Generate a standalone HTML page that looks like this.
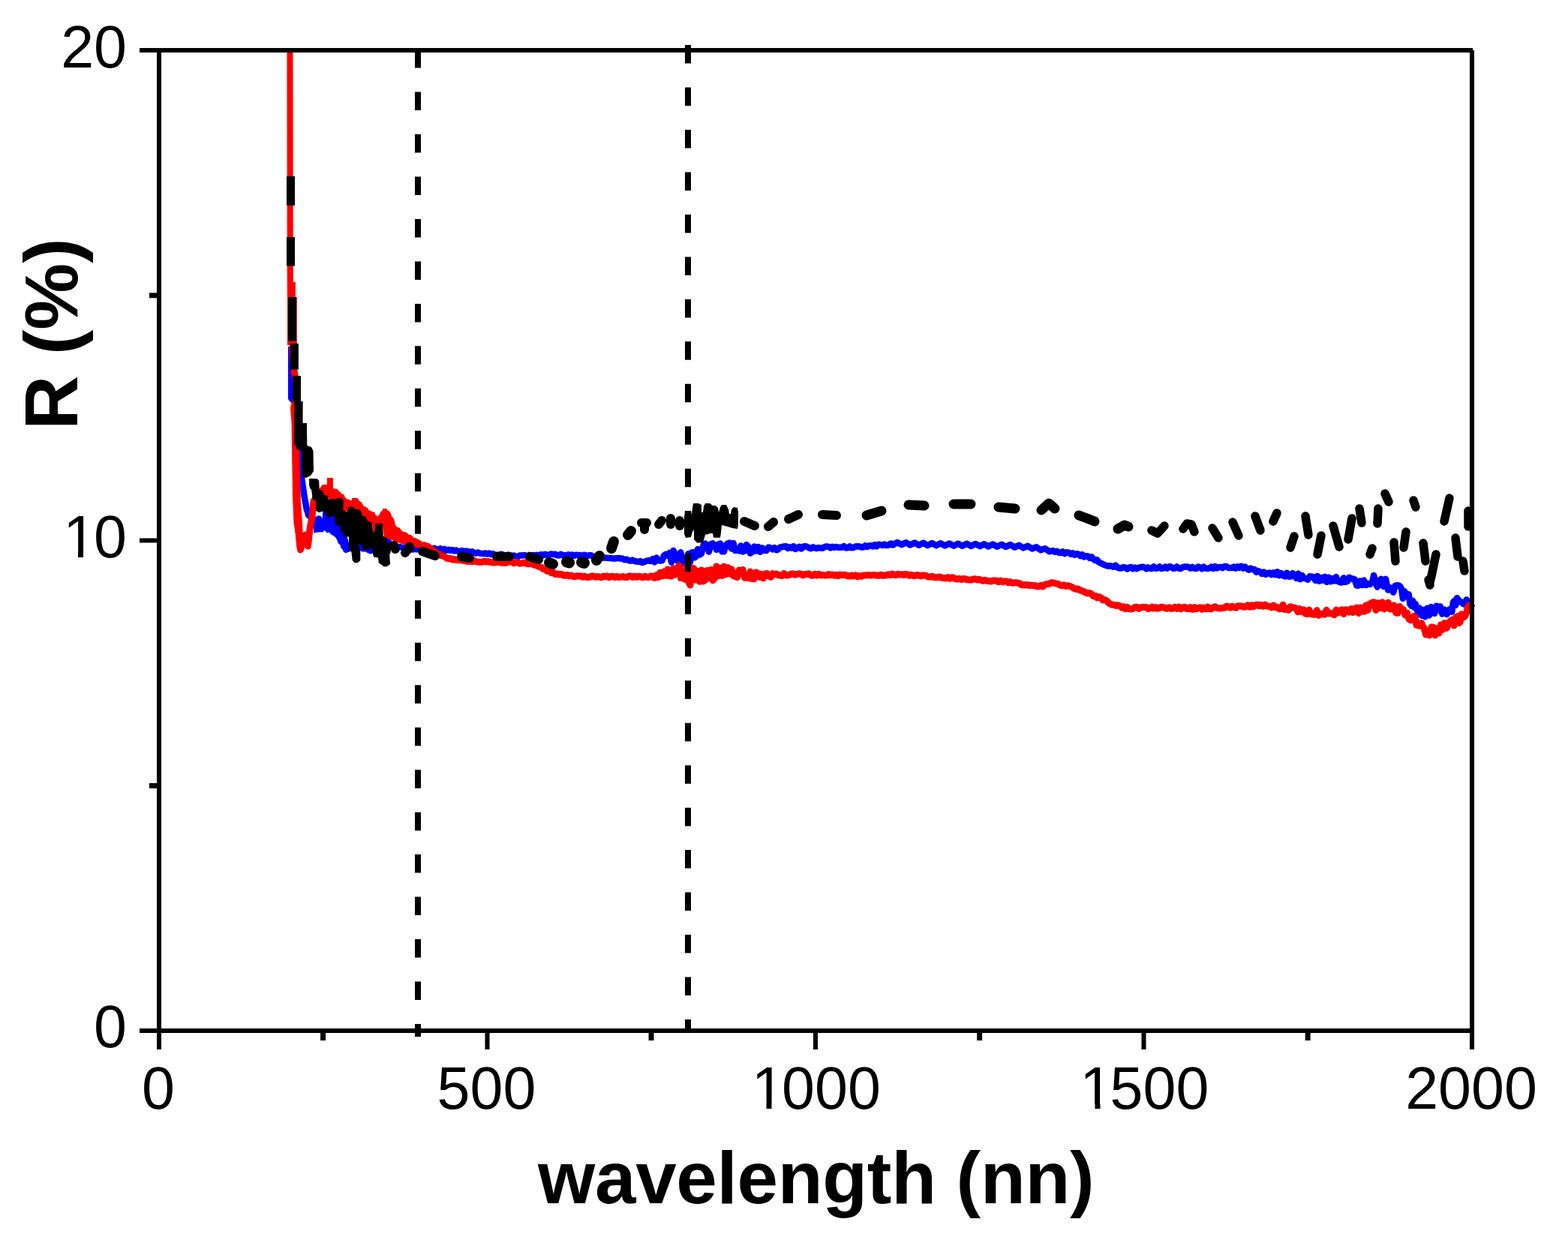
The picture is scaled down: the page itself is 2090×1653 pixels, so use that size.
<!DOCTYPE html>
<html><head><meta charset="utf-8"><title>R vs wavelength</title>
<style>html,body{margin:0;padding:0;background:#fff;overflow:hidden;}svg{display:block;}text{font-family:"Liberation Sans",Arial,sans-serif;}</style></head><body>
<svg width="2090" height="1653" viewBox="0 0 2090 1653">
<rect x="0" y="0" width="2090" height="1653" fill="#fff"/>
<g fill="none" stroke-linejoin="round">
<polyline points="387.5,462.0 387.5,531.0 396.0,540.0" stroke="#0000ff" stroke-width="7"/>
<polyline points="396.0,540.0 399.0,600.0 400.0,607.0 401.0,630.0 403.5,647.0 406.0,664.0 409.0,680.0 410.0,681.9 411.0,686.5 412.0,687.2 413.7,689.0 415.3,690.9 417.0,694.9 419.0,695.2 421.0,700.2 422.3,696.0 423.7,693.8 425.0,691.4 426.0,695.4 427.0,699.0 428.0,699.3 429.0,704.3 431.0,699.5 433.0,699.3 434.3,698.9 435.7,703.3 437.0,706.0 439.0,701.4 441.0,701.3 442.3,703.9 443.7,706.2 445.0,707.1 447.5,709.5 450.0,711.5 451.7,714.7 453.3,717.0 455.0,716.6 455.8,721.3 456.6,721.6 457.4,724.1 458.2,728.4 459.0,728.7 462.0,731.8 464.0,731.9 466.0,730.1 469.0,727.6 472.0,727.3 474.7,729.4 477.3,730.7 480.0,729.4 483.5,731.3 487.0,730.4 490.5,732.6 494.0,734.2 496.0,729.9 498.0,730.5 500.0,729.3 502.0,726.9 504.0,722.9 506.0,722.7 509.0,719.5 512.0,719.3 514.0,720.5 516.0,721.9 518.0,722.4 520.0,727.2 522.6,727.3 525.2,725.6 527.8,727.9 530.4,729.0 533.0,729.2 536.0,729.9 539.0,730.4 542.0,729.2 545.0,731.8 547.5,732.6 550.0,732.6 552.5,731.7 555.0,732.3 557.7,731.7 560.3,733.5 563.0,733.1 565.7,731.4 568.3,732.8 571.0,731.2 573.7,731.2 576.3,732.3 579.0,730.8 581.6,732.4 584.3,732.6 586.9,731.3 589.5,733.1 592.2,731.9 594.8,733.8 597.5,732.8 600.1,733.8 602.7,733.0 605.4,734.5 608.0,733.6 610.6,735.0 613.3,735.1 615.9,734.0 618.5,735.5 621.2,734.6 623.8,735.0 626.5,736.5 629.1,735.3 631.7,737.1 634.4,737.5 637.0,736.5 639.5,737.6 642.0,737.9 644.6,738.1 647.1,737.4 649.6,738.5 652.1,737.6 654.7,739.0 657.2,738.2 659.7,739.6 662.2,739.7 664.8,740.2 667.3,738.8 669.8,739.1 672.3,740.9 674.9,740.6 677.4,739.6 679.9,740.3 682.4,741.3 685.0,740.4 687.5,741.7 690.0,742.4 692.6,740.6 695.2,740.5 697.8,740.3 700.4,740.2 702.9,741.5 705.5,739.9 708.1,741.4 710.7,739.9 713.3,740.6 715.9,739.8 718.5,740.3 721.1,739.2 723.6,740.4 726.2,738.7 728.8,739.9 731.4,740.0 734.0,738.5 737.0,738.9 740.0,738.8 742.5,740.2 745.1,740.5 747.6,738.8 750.1,740.4 752.6,740.2 755.2,740.6 757.7,739.2 760.2,740.7 762.7,739.5 765.3,740.8 767.8,739.7 770.3,740.0 772.8,740.0 775.4,741.0 777.9,739.8 780.4,740.0 782.9,741.3 785.5,740.3 788.0,740.2 790.6,742.0 793.2,742.1 795.8,741.3 798.4,742.5 801.0,743.0 803.6,743.4 806.2,743.5 808.8,743.8 811.4,744.0 814.0,744.1 816.6,744.5 819.2,744.5 821.8,744.2 824.4,743.9 827.0,744.5 829.6,744.6 832.3,746.2 834.9,745.6 837.5,747.0 840.2,747.7 842.8,746.6 845.5,747.9 848.1,748.5 850.7,748.8 853.4,748.1 856.0,749.9 858.8,749.2 861.6,747.8 864.4,747.1 867.2,748.0 870.0,745.1 872.5,749.4 875.0,743.4 877.5,747.1 880.0,747.5 882.5,747.3 885.0,740.5 887.5,738.9 890.0,741.1 892.5,736.9 895.0,749.6 897.5,733.9 900.0,739.0 902.5,747.3 905.0,743.8 907.3,736.2 909.7,751.6 912.0,743.3 914.7,750.6 917.3,738.2 920.0,749.0 922.0,736.4 924.0,736.1 926.0,743.3 928.0,741.7 930.0,732.0 932.5,739.6 935.0,737.8 937.5,726.9 940.0,724.7 942.5,726.9 945.0,735.5 947.5,725.3 950.0,724.4 952.5,727.0 955.0,732.9 957.5,725.7 960.0,724.5 962.5,735.2 965.0,735.2 967.5,726.7 970.0,724.3 972.5,723.7 975.0,731.4 977.5,724.0 980.0,734.0 982.5,732.2 985.0,734.4 987.5,727.5 990.0,735.5 992.5,734.6 995.0,726.1 997.5,728.8 1000.0,737.6 1002.7,735.9 1005.3,728.6 1008.0,734.6 1010.7,729.0 1013.3,735.8 1016.0,730.4 1018.8,733.8 1021.6,734.1 1024.4,729.5 1027.2,730.3 1030.0,732.4 1032.5,730.1 1035.0,733.2 1037.5,732.2 1040.0,729.5 1042.5,729.1 1045.0,728.5 1047.5,728.2 1050.0,730.9 1052.5,729.2 1055.0,730.7 1057.6,728.2 1060.2,731.8 1062.8,730.6 1065.4,728.8 1068.0,731.6 1070.6,728.6 1073.2,728.2 1075.8,728.8 1078.4,730.4 1081.0,731.3 1083.6,729.2 1086.2,730.5 1088.8,731.0 1091.4,730.1 1094.0,730.6 1096.6,730.8 1099.1,729.1 1101.7,728.4 1104.3,728.9 1106.9,730.5 1109.4,728.8 1112.0,729.9 1114.6,728.9 1117.1,729.8 1119.7,729.7 1122.3,729.8 1124.9,728.1 1127.4,730.4 1130.0,730.3 1132.6,728.4 1135.1,730.3 1137.7,730.0 1140.3,728.4 1142.9,728.3 1145.4,728.5 1148.0,729.4 1150.6,729.6 1153.2,727.4 1155.7,729.0 1158.3,727.5 1160.9,727.2 1163.5,728.4 1166.1,726.2 1168.6,728.3 1171.2,725.8 1173.8,726.1 1176.4,727.0 1178.9,725.6 1181.5,727.1 1184.1,726.8 1186.7,724.8 1189.3,724.8 1190.0,726.6 1195.8,723.1 1201.6,726.1 1207.4,723.3 1213.2,726.4 1219.0,723.6 1224.8,726.7 1230.6,723.8 1236.4,727.0 1242.2,724.1 1248.0,727.2 1253.8,724.3 1259.6,727.4 1265.4,724.5 1271.2,727.6 1277.0,724.7 1282.8,727.7 1288.6,724.8 1294.4,727.9 1300.2,725.0 1306.0,728.1 1311.8,725.3 1317.6,728.4 1323.4,725.5 1329.2,728.7 1335.0,725.8 1340.8,728.9 1346.6,726.1 1352.4,729.5 1358.2,726.9 1364.0,730.4 1369.8,727.9 1375.6,731.4 1381.4,729.3 1387.2,733.3 1393.0,731.3 1398.8,735.3 1400.7,734.6 1403.4,734.1 1406.0,735.8 1408.6,734.7 1411.3,736.7 1413.9,737.1 1416.5,735.4 1419.2,738.0 1421.8,736.2 1424.5,736.6 1427.1,738.6 1429.7,737.3 1432.4,739.7 1435.0,738.2 1437.5,738.9 1440.0,741.1 1442.5,739.2 1445.0,742.5 1447.5,741.3 1450.0,741.5 1452.5,743.8 1455.0,742.3 1457.4,745.3 1459.8,747.1 1462.1,746.2 1464.5,749.3 1466.9,750.7 1469.2,751.5 1471.6,752.9 1474.0,753.7 1476.6,754.5 1479.2,754.3 1481.8,754.7 1484.4,755.7 1487.0,753.7 1489.6,756.5 1492.2,757.5 1494.8,757.4 1497.4,756.1 1500.0,756.7 1502.5,758.5 1505.1,756.6 1507.6,756.0 1510.1,758.2 1512.6,756.5 1515.2,758.2 1517.7,756.6 1520.2,756.3 1522.7,755.7 1525.3,756.3 1527.8,758.3 1530.3,756.4 1532.8,757.8 1535.4,758.0 1537.9,755.2 1540.4,757.7 1542.9,757.5 1545.5,755.5 1548.0,757.9 1550.6,757.5 1553.2,755.7 1555.7,757.6 1558.3,755.2 1560.9,755.7 1563.5,757.8 1566.1,757.5 1568.6,755.4 1571.2,757.5 1573.8,758.1 1576.4,756.2 1578.9,755.6 1581.5,755.4 1584.1,756.0 1586.7,757.6 1589.3,755.9 1591.8,757.6 1594.4,758.1 1597.0,755.5 1599.5,756.5 1602.0,758.2 1604.5,755.7 1607.0,757.6 1609.5,757.9 1612.0,757.4 1614.5,755.7 1617.0,757.8 1619.5,755.1 1622.0,757.5 1624.5,755.9 1627.0,755.9 1629.5,757.1 1632.0,755.1 1634.5,755.1 1637.0,756.8 1639.5,757.1 1642.0,757.1 1644.5,755.5 1647.0,757.6 1649.5,755.3 1652.0,756.9 1654.5,754.7 1657.0,757.5 1659.5,755.6 1662.0,758.0 1664.5,759.6 1667.0,757.6 1669.5,759.0 1672.0,759.0 1674.5,762.7 1677.0,761.1 1679.5,762.1 1682.0,765.1 1684.5,762.6 1687.0,765.9 1689.6,763.9 1692.2,763.6 1694.8,766.1 1697.4,763.2 1700.0,766.2 1702.5,762.2 1705.1,767.2 1707.6,764.0 1710.2,767.3 1712.7,768.3 1715.3,763.7 1717.8,768.7 1720.4,768.6 1722.9,764.2 1725.5,766.2 1728.0,771.0 1730.5,764.6 1733.1,772.3 1735.6,767.1 1738.1,770.7 1740.7,771.4 1743.2,772.6 1745.7,768.3 1748.3,768.7 1750.8,769.2 1753.3,773.8 1755.9,768.0 1758.4,774.8 1760.9,769.9 1763.5,773.8 1766.0,768.9 1768.5,775.8 1771.0,769.7 1773.5,775.3 1776.0,771.1 1778.5,774.5 1781.0,769.1 1783.5,775.1 1786.0,776.2 1788.5,776.5 1791.0,770.3 1793.5,775.9 1796.0,774.9 1798.4,769.7 1800.9,771.4 1803.3,771.5 1805.8,772.5 1808.2,780.6 1810.7,780.7 1813.1,774.4 1815.6,780.0 1818.0,773.6 1820.8,780.0 1823.5,778.1 1826.2,779.0 1829.0,775.8 1831.2,767.0 1833.5,776.9 1835.8,782.5 1838.0,774.4 1841.0,771.7 1844.0,781.8 1847.0,771.7 1850.0,786.5 1852.4,783.1 1854.8,786.0 1857.2,789.6 1859.6,780.9 1862.0,780.2 1864.0,780.4 1866.0,781.3 1868.0,785.1 1870.0,798.0 1872.0,788.2 1874.0,792.0 1875.8,794.3 1877.7,792.3 1879.5,805.5 1881.3,807.7 1883.2,800.8 1885.0,809.8 1886.7,804.9 1888.4,812.3 1890.1,816.6 1891.9,810.4 1893.6,819.3 1895.3,820.7 1897.0,813.0 1899.7,822.2 1902.3,810.7 1905.0,820.4 1907.4,809.0 1909.8,817.0 1912.2,817.7 1914.6,807.7 1917.0,812.9 1919.7,808.4 1922.3,818.5 1925.0,812.5 1928.5,819.1 1932.0,812.3 1933.7,814.7 1935.3,815.7 1937.0,802.8 1938.7,800.8 1940.3,806.8 1942.0,797.2 1945.0,801.0 1948.0,802.9 1950.5,805.2 1953.0,803.1 1954.7,799.4 1956.3,809.5 1958.0,809.3 1959.5,803.1 1961.0,810.0" stroke="#0000ff" stroke-width="8.5"/>
<polygon points="418.0,689.3 422.7,688.4 426.9,691.0 429.5,692.7 430.3,680.8 440.0,684.0 447.0,688.0 455.0,700.0 462.0,712.0 466.0,728.0 465.0,733.3 464.2,735.8 460.8,737.5 457.4,735.0 455.7,728.2 450.6,724.0 449.0,718.9 446.4,715.5 439.6,711.3 438.8,703.7 434.6,702.4 430.3,709.6 425.2,709.2 418.0,710.4" fill="#0000ff" stroke="none"/>
<polyline points="446.0,656.0 448.0,657.0 450.3,659.1 452.7,663.4 455.0,662.4 456.5,667.5 458.0,667.1 460.5,671.6 463.0,669.9 465.0,671.2 467.0,677.4 468.5,673.8 470.0,671.2 474.0,668.1 476.0,673.5 478.0,672.4 479.7,674.7 481.3,678.8 483.0,679.0 487.0,680.6 489.0,685.6 491.0,684.9 495.0,686.2 496.7,691.6 498.3,690.0 500.0,692.9 502.5,693.7 505.0,696.8 506.5,691.1 508.0,691.7 509.5,688.5 511.0,685.1 515.0,685.5 516.0,685.0 517.0,686.6 518.0,692.6 519.5,691.8 521.0,693.9 522.0,698.0 523.0,703.6 524.5,703.7 526.0,708.8 530.0,707.3 531.5,712.0 533.0,711.1 535.3,715.2 537.7,713.2 540.0,714.2 542.7,718.5 545.3,717.0 548.0,719.3 550.5,722.0 553.0,721.5 555.5,724.4 558.0,724.2 560.4,726.7 562.8,727.5 565.2,726.6 567.6,727.9 570.0,728.2 572.2,729.7 574.3,732.5 576.5,732.8 578.7,735.3 580.8,736.1 583.0,738.3 585.5,738.8 588.0,740.8 590.5,740.7 593.0,742.3 595.5,744.3 598.0,744.7 600.6,744.4 603.3,746.1 605.9,745.5 608.5,746.5 611.2,746.7 613.8,745.8 616.5,747.3 619.1,746.9 621.7,748.3 624.4,748.4 627.0,747.5 629.6,748.8 632.3,747.4 634.9,748.7 637.5,749.3 640.2,749.2 642.8,749.3 645.5,748.0 648.1,749.0 650.7,748.4 653.4,749.6 656.0,749.6 658.6,750.0 661.3,749.7 663.9,748.9 666.5,749.8 669.2,750.3 671.8,750.1 674.5,750.4 677.1,749.0 679.7,749.1 682.4,749.3 685.0,750.8 687.5,749.4 690.0,749.7 692.5,751.2 695.0,750.9 697.5,750.3 700.0,750.0 702.5,751.7 705.0,751.7 707.5,750.9 710.0,752.3 712.5,753.2 715.0,752.1 717.2,755.1 719.5,755.9 721.8,756.3 724.0,758.6 726.7,758.6 729.3,761.2 732.0,760.9 734.7,763.5 737.3,763.0 740.0,765.6 742.6,765.0 745.3,766.0 747.9,765.2 750.5,766.8 753.2,767.2 755.8,766.3 758.5,768.0 761.1,766.9 763.7,768.3 766.4,768.8 769.0,767.8 771.5,768.0 774.1,768.0 776.6,769.3 779.1,768.0 781.6,769.5 784.2,769.5 786.7,769.1 789.2,767.8 791.7,768.4 794.3,769.3 796.8,768.4 799.3,769.5 801.8,769.7 804.4,768.1 806.9,768.5 809.4,768.0 811.9,769.8 814.5,768.4 817.0,768.2 819.6,769.5 822.3,768.5 824.9,769.5 827.5,769.3 830.2,768.5 832.8,769.5 835.5,769.6 838.1,768.1 840.7,768.1 843.4,769.4 846.0,768.2 848.6,769.4 851.3,768.2 853.9,768.6 856.5,769.8 859.2,768.3 861.8,769.3 864.5,769.5 867.1,768.1 869.7,768.2 872.4,770.5 875.0,766.8 877.5,769.7 880.0,763.2 882.5,768.0 885.0,762.0 887.5,767.2 890.0,759.0 892.5,767.8 895.0,767.9 897.5,757.7 900.0,766.1 902.5,758.4 905.0,753.8 907.5,770.6 910.0,768.5 912.5,772.2 915.0,755.4 917.5,774.9 920.0,779.9 922.5,756.9 925.0,758.1 927.5,773.0 930.0,761.3 932.5,775.3 935.0,760.0 937.5,775.0 940.0,773.1 942.5,760.4 945.0,770.6 947.5,759.5 950.0,773.8 952.5,770.5 955.0,754.9 957.5,767.9 960.0,757.2 962.5,767.5 965.0,755.1 967.5,765.7 970.0,756.4 972.5,764.7 975.0,758.6 977.5,767.7 980.0,768.3 982.5,769.6 985.0,760.1 987.5,761.3 990.0,759.5 992.5,770.3 995.0,769.6 997.5,770.8 1000.0,762.0 1002.5,771.5 1005.0,771.7 1007.5,762.9 1010.0,764.3 1012.5,769.2 1015.0,765.5 1017.5,770.9 1020.0,764.7 1022.5,764.5 1025.0,768.0 1027.5,769.3 1030.0,764.7 1032.5,765.5 1035.0,765.1 1037.5,767.1 1040.0,766.8 1042.5,767.6 1045.0,764.4 1047.5,767.0 1050.0,766.9 1052.5,766.2 1055.0,764.9 1057.5,764.9 1060.0,766.3 1062.5,765.1 1065.0,764.8 1067.5,765.2 1070.0,766.9 1072.7,765.5 1075.3,765.4 1078.0,764.8 1080.7,766.8 1083.3,767.2 1086.0,765.4 1088.7,767.1 1091.3,765.2 1094.0,766.7 1096.6,766.5 1099.1,766.9 1101.7,767.1 1104.3,765.5 1106.9,766.8 1109.4,765.9 1112.0,767.2 1114.6,766.2 1117.1,767.7 1119.7,766.1 1122.3,766.7 1124.9,766.3 1127.4,766.7 1130.0,767.9 1132.6,768.1 1135.1,766.9 1137.7,768.0 1140.3,766.8 1142.9,768.8 1145.4,767.4 1148.0,768.4 1150.6,766.9 1153.2,766.9 1155.7,766.7 1158.3,766.8 1160.9,767.0 1163.5,766.6 1166.1,766.4 1168.6,767.3 1171.2,767.3 1173.8,766.2 1176.4,767.4 1178.9,767.0 1181.5,766.9 1184.1,765.7 1186.7,766.5 1189.3,765.0 1191.8,766.3 1194.4,766.7 1197.0,765.2 1199.5,766.1 1202.1,765.6 1204.6,766.6 1207.1,765.3 1209.6,765.8 1212.2,767.2 1214.7,766.2 1217.2,767.4 1219.7,767.5 1222.3,766.5 1224.8,766.9 1227.3,768.0 1229.8,767.1 1232.4,767.0 1234.9,767.7 1237.4,769.0 1239.9,769.0 1242.5,768.2 1245.0,769.6 1247.6,769.8 1250.2,769.6 1252.8,769.0 1255.4,770.4 1258.0,770.6 1260.6,770.9 1263.2,769.6 1265.8,771.3 1268.4,769.7 1271.0,770.4 1273.6,771.6 1276.2,772.1 1278.8,771.2 1281.4,772.5 1284.0,771.5 1286.7,771.8 1289.3,772.8 1292.0,773.1 1294.7,773.0 1297.3,772.0 1300.0,771.8 1302.6,773.1 1305.2,772.2 1307.8,773.7 1310.4,774.3 1313.0,773.2 1315.6,774.4 1318.2,774.4 1320.8,775.0 1323.4,773.9 1326.0,774.0 1328.6,774.3 1331.2,775.8 1333.8,774.1 1336.4,775.7 1339.0,774.9 1341.5,774.9 1344.1,776.8 1346.6,775.6 1349.1,777.3 1351.7,776.8 1354.2,776.8 1356.7,777.1 1359.3,777.9 1361.8,779.8 1364.3,779.5 1366.9,780.1 1369.4,779.4 1371.9,780.6 1374.5,780.1 1377.0,780.6 1379.6,780.6 1382.2,781.9 1384.8,781.6 1387.4,780.4 1390.0,781.9 1392.8,779.3 1395.5,778.4 1398.2,778.5 1401.0,776.8 1404.0,777.0 1407.0,777.7 1410.0,778.1 1412.7,780.0 1415.3,780.7 1418.0,779.7 1420.7,781.5 1423.3,780.7 1426.0,781.3 1428.7,782.5 1431.4,784.3 1434.1,785.5 1436.9,785.0 1439.6,786.9 1442.3,787.6 1445.0,788.9 1447.5,790.1 1450.0,790.9 1452.5,790.6 1455.0,792.0 1457.5,794.8 1460.0,794.2 1462.5,796.9 1465.0,795.5 1467.5,796.7 1470.0,799.9 1472.5,799.5 1475.0,800.7 1477.5,803.7 1480.0,805.2 1482.5,806.2 1485.0,806.3 1487.5,807.4 1490.0,806.7 1492.5,807.7 1495.0,810.0 1497.5,808.7 1500.0,811.8 1502.5,809.5 1505.1,811.6 1507.6,812.0 1510.1,811.3 1512.6,809.4 1515.2,809.3 1517.7,811.4 1520.2,809.9 1522.7,809.5 1525.3,809.6 1527.8,809.5 1530.3,811.6 1532.8,810.9 1535.4,809.2 1537.9,811.0 1540.4,809.5 1542.9,811.2 1545.5,810.7 1548.0,809.2 1550.6,809.4 1553.2,810.8 1555.7,811.2 1558.3,809.7 1560.9,811.4 1563.5,811.0 1566.1,809.3 1568.6,811.3 1571.2,809.2 1573.8,811.7 1576.4,809.9 1578.9,809.3 1581.5,811.5 1584.1,811.6 1586.7,809.6 1589.3,812.4 1591.8,809.8 1594.4,811.9 1597.0,810.3 1599.5,809.8 1602.1,812.2 1604.6,810.0 1607.1,811.6 1609.6,809.3 1612.2,811.5 1614.7,811.9 1617.2,809.7 1619.7,808.7 1622.3,810.6 1624.8,810.8 1627.3,810.9 1629.8,810.3 1632.4,810.3 1634.9,808.1 1637.4,808.7 1639.9,810.1 1642.5,808.3 1645.0,809.7 1647.6,810.2 1650.1,807.7 1652.7,808.1 1655.3,807.9 1657.9,809.3 1660.4,808.9 1663.0,806.9 1665.6,809.0 1668.1,806.8 1670.7,808.7 1673.3,806.7 1675.9,806.0 1678.4,807.8 1681.0,806.4 1683.7,808.2 1686.4,806.1 1689.1,808.1 1691.9,808.4 1694.6,809.9 1697.3,806.9 1700.0,809.7 1702.5,809.5 1705.0,811.7 1707.5,811.6 1710.0,806.2 1712.5,812.6 1715.0,811.2 1717.5,813.2 1720.0,808.8 1722.5,809.7 1725.0,810.0 1727.5,810.8 1730.0,815.8 1732.5,811.6 1735.0,815.5 1737.5,812.8 1740.0,818.1 1742.5,818.5 1745.0,813.0 1747.5,818.8 1750.0,818.9 1752.6,819.3 1755.2,813.6 1757.8,820.3 1760.3,818.7 1762.9,818.3 1765.5,819.1 1768.1,813.3 1770.7,817.9 1773.2,817.5 1775.8,818.0 1778.4,819.8 1781.0,813.1 1783.5,816.9 1786.0,813.9 1788.5,812.8 1791.0,818.5 1793.5,812.8 1796.0,813.1 1798.5,816.3 1801.0,811.6 1803.5,816.6 1806.0,811.3 1808.5,810.0 1811.0,817.4 1813.4,809.9 1815.9,815.1 1818.3,815.1 1820.7,807.0 1823.1,813.4 1825.6,805.0 1828.0,803.8 1831.0,802.7 1834.0,813.3 1837.0,803.8 1840.0,810.8 1842.6,802.8 1845.2,811.9 1847.8,810.1 1850.4,803.2 1853.0,812.0 1855.5,811.3 1858.0,806.9 1860.5,816.8 1863.0,817.3 1865.5,808.4 1868.0,811.2 1870.5,812.6 1873.0,819.9 1875.5,817.0 1878.0,825.3 1880.5,827.0 1883.0,825.9 1884.7,821.3 1886.3,822.8 1888.0,833.2 1889.7,833.3 1891.3,834.3 1893.0,831.5 1894.7,830.5 1896.3,834.9 1898.0,836.8 1900.5,845.9 1903.0,845.4 1905.5,846.9 1908.0,836.0 1910.5,836.3 1913.0,846.8 1915.5,837.7 1918.0,844.1 1920.5,832.9 1923.0,839.2 1925.5,830.5 1928.0,837.4 1930.5,831.7 1933.0,827.9 1935.5,826.1 1938.0,833.9 1940.5,823.1 1943.0,821.5 1944.7,830.6 1946.3,829.0 1948.0,818.7 1949.7,821.4 1951.3,822.8 1953.0,820.9 1954.7,816.8 1956.3,809.7 1958.0,807.3 1960.0,811.1 1962.0,805.0" stroke="#ff0000" stroke-width="9"/>
<polyline points="386.5,67.0 386.5,90.0 386.8,376.0" stroke="#ff0000" stroke-width="8"/>
<polyline points="388.4,376.0 388.4,396.0" stroke="#ff0000" stroke-width="11"/>
<polyline points="389.4,396.0 389.4,460.0" stroke="#ff0000" stroke-width="12.8"/>
<polyline points="390.0,460.0 391.5,492.0 394.0,505.0 394.5,530.0 391.5,545.0 393.0,563.0 393.5,590.0 394.0,620.0 394.5,660.0 396.0,697.0 399.0,715.0 400.5,733.0 404.0,722.0 407.0,713.0 410.5,728.0 413.0,705.0 416.0,690.0 418.0,668.0 423.0,662.0 428.0,656.0 433.0,655.0 436.0,652.0" stroke="#ff0000" stroke-width="9"/>
<polyline points="394.5,600.0 395.0,640.0 396.0,670.0 397.5,690.0 399.0,715.0 400.5,730.0" stroke="#ff0000" stroke-width="10"/>
</g>
<polygon points="425.0,652.0 427.0,650.0 430.0,646.0 436.0,646.0 436.0,637.0 444.0,637.0 444.0,651.0 450.0,652.0 450.0,658.0 456.0,659.0 456.0,663.0 459.0,663.0 459.0,666.0 466.0,666.0 466.0,672.0 469.0,672.0 469.0,664.0 476.0,664.0 476.0,669.0 482.0,669.0 482.0,675.0 487.0,675.0 487.0,677.0 490.0,677.0 490.0,681.0 494.0,681.0 494.0,683.0 500.0,683.0 500.0,689.0 508.0,690.0 508.0,684.0 510.0,684.0 510.0,678.0 516.0,678.0 516.0,686.0 519.0,686.0 519.0,691.6 522.0,691.6 523.0,694.5 523.0,699.0 525.0,699.0 525.0,702.8 527.0,703.7 531.0,703.7 531.0,708.0 535.0,708.6 545.0,715.0 560.0,720.0 560.0,731.0 535.0,725.0 512.0,716.0 510.0,702.0 500.0,702.0 500.0,709.0 497.0,709.0 496.0,699.0 490.0,696.0 483.0,692.0 475.0,683.0 465.0,680.0 457.0,684.0 455.0,670.0 445.0,669.0 437.0,664.0 431.0,657.0 426.0,655.0" fill="#ff0000"/>
<g fill="none" stroke="#000" stroke-width="11" stroke-linejoin="round">
<polyline points="387.5,235.0 387.5,274.0" stroke-linecap="butt"/>
<polyline points="387.5,316.0 387.5,354.6" stroke-linecap="butt"/>
<polyline points="389.5,396.0 389.5,454.5" stroke-linecap="butt"/>
<polyline points="392.4,458.0 392.4,492.6" stroke-linecap="butt"/>
<polyline points="395.5,501.0 395.5,536.0" stroke-linecap="butt"/>
<polyline points="525.0,727.0 527.0,732.0" stroke-linecap="round" stroke-width="12"/>
<polyline points="540.0,737.0 546.0,729.0" stroke-linecap="round" stroke-width="12"/>
<polyline points="563.0,735.0 580.0,741.0" stroke-linecap="round" stroke-width="12"/>
<polyline points="615.0,742.0 626.0,744.0" stroke-linecap="round" stroke-width="12"/>
<polyline points="662.0,742.0 679.0,742.0" stroke-linecap="round" stroke-width="12"/>
<polyline points="706.0,742.0 718.0,746.0" stroke-linecap="round" stroke-width="12"/>
<polyline points="855.0,697.0 862.0,697.0" stroke-linecap="round" stroke-width="12"/>
<polyline points="859.0,697.0 859.0,706.0" stroke-linecap="round" stroke-width="12"/>
<polyline points="878.0,699.0 882.0,694.0" stroke-linecap="round" stroke-width="12"/>
<polyline points="894.0,691.0 894.0,699.0" stroke-linecap="round" stroke-width="12"/>
<polyline points="906.0,694.0 906.0,701.0" stroke-linecap="round" stroke-width="12"/>
<polyline points="992.0,695.0 1006.0,701.0" stroke-linecap="round" stroke-width="12"/>
<polyline points="1024.0,702.0 1031.0,696.0" stroke-linecap="round" stroke-width="12"/>
<polyline points="1051.0,692.0 1064.0,686.0" stroke-linecap="round" stroke-width="12"/>
<polyline points="1096.0,686.0 1115.0,687.0" stroke-linecap="round" stroke-width="12"/>
<polyline points="1155.0,687.0 1175.0,681.0" stroke-linecap="round" stroke-width="13"/>
<polyline points="1211.0,673.0 1232.0,674.0" stroke-linecap="round" stroke-width="13"/>
<polyline points="1271.0,672.0 1294.0,672.0" stroke-linecap="round" stroke-width="13"/>
<polyline points="1331.0,676.0 1353.0,678.0" stroke-linecap="round" stroke-width="13"/>
<polyline points="1388.0,680.0 1398.0,671.0 1406.0,678.0" stroke-linecap="round" stroke-width="13"/>
<polyline points="1438.0,687.0 1449.0,691.0 1459.0,695.0" stroke-linecap="round" stroke-width="13"/>
<polyline points="1490.0,705.0 1499.0,700.0 1504.0,702.0" stroke-linecap="round" stroke-width="13"/>
<polyline points="1535.0,707.0 1543.0,711.0 1552.0,701.0" stroke-linecap="round" stroke-width="11.5"/>
<polyline points="1577.0,705.0 1582.0,698.0 1588.0,699.0 1592.0,709.0" stroke-linecap="round" stroke-width="11.5"/>
<polyline points="1616.0,704.0 1624.0,717.0" stroke-linecap="round" stroke-width="11.5"/>
<polyline points="1643.0,696.0 1651.0,714.0" stroke-linecap="round" stroke-width="11.5"/>
<polyline points="1673.0,688.0 1680.0,707.0" stroke-linecap="round" stroke-width="11.5"/>
<polyline points="1702.0,684.0 1697.0,695.0" stroke-linecap="round" stroke-width="11.5"/>
<polyline points="1725.0,715.0 1720.0,730.0" stroke-linecap="round" stroke-width="11.5"/>
<polyline points="1740.0,688.0 1744.0,713.0" stroke-linecap="round" stroke-width="11.5"/>
<polyline points="1761.0,714.0 1756.0,739.0" stroke-linecap="round" stroke-width="11.5"/>
<polyline points="1777.0,701.0 1785.0,729.0" stroke-linecap="round" stroke-width="11.5"/>
<polyline points="1802.0,691.0 1797.0,719.0" stroke-linecap="round" stroke-width="11.5"/>
<polyline points="1812.0,678.0 1815.0,697.0" stroke-linecap="round" stroke-width="11.5"/>
<polyline points="1829.0,731.0 1826.0,739.0" stroke-linecap="round" stroke-width="11.5"/>
<polyline points="1837.0,678.0 1836.0,698.0" stroke-linecap="round" stroke-width="11.5"/>
<polyline points="1846.0,658.0 1851.0,669.0" stroke-linecap="round" stroke-width="11.5"/>
<polyline points="1858.0,723.0 1860.0,748.0" stroke-linecap="round" stroke-width="11.5"/>
<polyline points="1874.0,709.0 1871.0,730.0" stroke-linecap="round" stroke-width="11.5"/>
<polyline points="1884.0,667.0 1887.0,676.0" stroke-linecap="round" stroke-width="11.5"/>
<polyline points="1897.0,724.0 1900.0,748.0" stroke-linecap="round" stroke-width="11.5"/>
<polyline points="1914.0,739.0 1908.0,768.0 1906.0,776.0" stroke-linecap="round" stroke-width="11.5"/>
<polyline points="1904.0,773.0 1906.0,780.0" stroke-linecap="round" stroke-width="11.5"/>
<polyline points="1932.0,664.0 1925.0,695.0" stroke-linecap="round" stroke-width="11.5"/>
<polyline points="1940.0,717.0 1943.0,742.0" stroke-linecap="round" stroke-width="11.5"/>
<polyline points="1950.0,748.0 1952.0,761.0" stroke-linecap="round" stroke-width="11.5"/>
<polyline points="1957.0,681.0 1957.0,702.0" stroke-linecap="round" stroke-width="11.5"/>
<polyline points="732.0,750.0 737.0,752.0" stroke-linecap="round" stroke-width="14"/>
<polyline points="755.5,749.0 758.5,750.0" stroke-linecap="round" stroke-width="15"/>
<polyline points="775.5,749.5 778.5,750.5" stroke-linecap="round" stroke-width="15"/>
<polyline points="795.0,747.0 799.0,741.0" stroke-linecap="round" stroke-width="14"/>
<polyline points="815.0,731.0 818.0,722.0" stroke-linecap="round" stroke-width="14"/>
<polyline points="837.0,713.0 841.0,708.0" stroke-linecap="round" stroke-width="14"/>
</g>
<g fill="#000">
<polygon points="392.0,560.0 392.4,535.0 403.6,535.0 403.6,564.0 409.0,564.0 409.3,594.0 415.0,596.0 417.5,601.0 418.0,628.0 414.0,634.0 408.0,637.0 404.0,636.0 402.0,632.0 402.0,601.0 396.0,599.0 392.0,590.0"/>
<polygon points="412.1,638.0 422.7,638.0 425.2,641.0 425.7,652.9 429.5,654.0 432.0,659.6 436.2,660.9 438.0,665.6 447.3,665.6 449.8,664.3 455.7,664.3 457.8,667.3 457.4,680.0 462.5,682.5 464.2,676.6 469.3,675.3 473.5,678.7 481.1,680.0 482.8,687.6 487.9,689.3 490.0,694.4 495.5,696.9 497.2,708.7 499.8,708.7 500.6,697.7 509.9,697.7 510.8,714.7 515.8,717.2 516.7,725.7 520.1,721.4 520.9,735.8 519.2,739.2 520.1,752.0 515.8,755.3 511.6,755.3 504.8,750.2 504.0,743.5 498.1,742.6 496.4,735.8 495.5,730.0 492.1,732.5 484.5,733.3 482.8,731.6 482.0,726.5 477.7,725.7 480.3,735.8 480.3,746.9 476.9,750.2 472.7,750.2 469.7,746.9 468.4,735.8 465.0,733.3 465.0,715.5 459.1,715.5 456.6,709.6 454.0,708.7 453.6,701.1 448.1,700.3 446.4,695.2 446.4,687.6 441.3,688.4 437.9,690.1 434.6,687.6 432.9,682.5 429.5,681.7 425.2,683.3 421.0,680.8 421.0,667.3 416.4,665.6 415.9,658.0 415.1,652.9 413.4,651.2 412.1,647.0"/>
<polygon points="912.0,690.0 913.0,681.0 921.0,681.0 922.0,686.0 923.0,677.0 924.0,671.0 931.0,671.0 935.0,673.0 935.0,683.0 937.0,683.0 938.0,675.0 940.0,671.0 946.0,671.0 950.0,674.0 954.0,674.0 957.0,677.0 958.0,683.0 960.0,676.0 962.0,673.0 968.0,673.0 971.0,679.0 972.0,685.0 974.0,685.0 975.0,679.0 978.0,676.0 983.0,677.0 984.0,683.0 984.0,700.0 983.0,705.0 976.0,704.0 970.0,702.0 962.0,700.0 961.0,710.0 960.0,716.7 951.0,716.7 950.0,711.0 947.0,711.0 944.0,712.0 940.0,713.0 938.0,720.0 937.0,723.6 929.0,723.6 925.0,719.0 925.0,706.0 923.0,709.0 921.0,716.0 914.0,717.0 912.0,712.0"/>
</g>
<g stroke="#000" stroke-width="8" fill="none">
<line x1="557" y1="66" x2="557" y2="1382" stroke-dasharray="24.5 31.98"/>
<line x1="917" y1="60" x2="917" y2="1374" stroke-dasharray="24.5 31.98"/>
</g>
<g fill="#000">
<rect x="186" y="64" width="1777" height="6"/>
<rect x="186" y="1371" width="1779" height="6"/>
<rect x="209" y="64" width="6" height="1335"/>
<rect x="1959" y="67" width="6" height="1332"/>
<rect x="186" y="717.5" width="24" height="6"/>
<rect x="199" y="1044.0" width="11" height="6.9"/>
<rect x="199" y="390.4" width="11" height="6.9"/>
<rect x="646.5" y="1376" width="6" height="23"/>
<rect x="1084.0" y="1376" width="6" height="23"/>
<rect x="1521.5" y="1376" width="6" height="23"/>
<rect x="427.1" y="1376" width="6.9" height="11"/>
<rect x="864.6" y="1376" width="6.9" height="11"/>
<rect x="1302.2" y="1376" width="6.9" height="11"/>
<rect x="1739.7" y="1376" width="6.9" height="11"/>
</g>
<g font-size="79" fill="#000">
<text x="169" y="1395.8" text-anchor="end">0</text>
<text y="742.8"><tspan x="84.13">1</tspan><tspan x="125.06">0</tspan></text>
<text x="169" y="89.6" text-anchor="end">20</text>
<text x="211.0" y="1477.6" text-anchor="middle">0</text>
<text x="648.5" y="1477.6" text-anchor="middle">500</text>
<text y="1477.6"><tspan x="1001.63">1</tspan><tspan x="1042.06">000</tspan></text>
<text y="1477.6"><tspan x="1439.13">1</tspan><tspan x="1479.56">500</tspan></text>
<text x="1961.0" y="1477.6" text-anchor="middle">2000</text>
</g>
<g fill="#fff">
<rect x="89.5" y="736.5" width="14.5" height="7.0"/><rect x="111" y="736.5" width="14.5" height="7.0"/>
<rect x="1007" y="1471.5" width="14.5" height="7.0"/><rect x="1028.5" y="1471.5" width="14.5" height="7.0"/>
<rect x="1444" y="1471.5" width="15.5" height="7.0"/><rect x="1466.5" y="1471.5" width="13.5" height="7.0"/>
</g>
<text x="717" y="1604" font-size="98" font-weight="bold" letter-spacing="-0.3" fill="#000">wavelength (nn)</text>
<text transform="translate(103,573) rotate(-90)" font-size="100" font-weight="bold" fill="#000">R (%)</text>
</svg></body></html>
